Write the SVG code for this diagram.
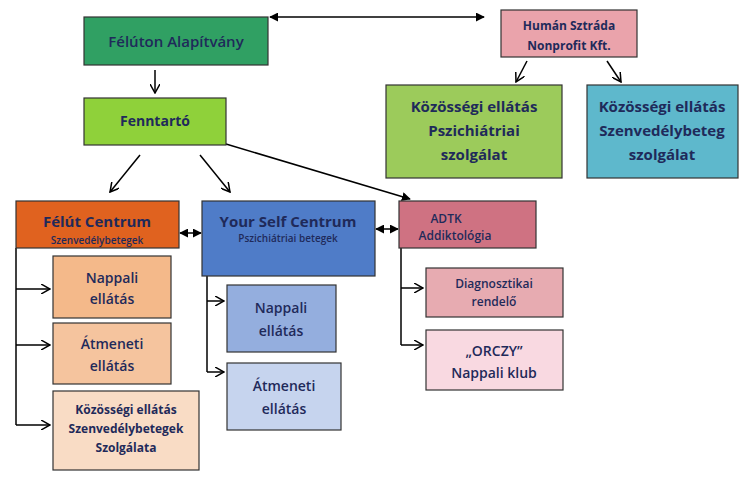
<svg xmlns="http://www.w3.org/2000/svg" width="752" height="500" viewBox="0 0 752 500">
<defs>
<marker id="v" viewBox="0 0 10 10" refX="9" refY="5" markerWidth="10" markerHeight="10" orient="auto-start-reverse" markerUnits="userSpaceOnUse"><path d="M0,0 L9,5 L0,10" fill="none" stroke="#000" stroke-width="1.5"/></marker>
<marker id="f" viewBox="0 0 10 10" refX="9" refY="5" markerWidth="9" markerHeight="9" orient="auto-start-reverse" markerUnits="userSpaceOnUse"><path d="M0,0 L10,5 L0,10 Z" fill="#000"/></marker>
</defs>
<style>
g rect{stroke:#333;stroke-width:1.2}
text{font-family:"Open Sans","DejaVu Sans",sans-serif;fill:#1f2a5a;text-anchor:middle;font-weight:bold}
.n{font-weight:600}
.c line,.c path{stroke:#000;stroke-width:1.5;fill:none}
</style>
<rect width="752" height="500" fill="#fff"/>
<g class="c">
<line x1="270" y1="17" x2="484" y2="17" marker-start="url(#f)" marker-end="url(#f)"/>
<line x1="155" y1="70" x2="155" y2="93" marker-end="url(#v)"/>
<line x1="527" y1="61" x2="516" y2="82" marker-end="url(#v)"/>
<line x1="607" y1="61" x2="621" y2="82" marker-end="url(#v)"/>
<line x1="140" y1="155" x2="110" y2="192" marker-end="url(#v)"/>
<line x1="200" y1="155" x2="230" y2="192" marker-end="url(#v)"/>
<line x1="226" y1="144" x2="410" y2="199" marker-end="url(#f)"/>
<line x1="180" y1="233" x2="201" y2="233" marker-start="url(#f)" marker-end="url(#f)"/>
<line x1="376" y1="229" x2="398" y2="229" marker-start="url(#f)" marker-end="url(#f)"/>
<path d="M16,248 V425"/>
<line x1="16" y1="289" x2="50" y2="289" marker-end="url(#v)"/>
<line x1="16" y1="345" x2="50" y2="345" marker-end="url(#v)"/>
<line x1="16" y1="425" x2="50" y2="425" marker-end="url(#v)"/>
<path d="M207,276 V372"/>
<line x1="207" y1="301" x2="224" y2="301" marker-end="url(#v)"/>
<line x1="207" y1="372" x2="224" y2="372" marker-end="url(#v)"/>
<path d="M401,248 V345"/>
<line x1="401" y1="288" x2="423" y2="288" marker-end="url(#v)"/>
<line x1="401" y1="345" x2="423" y2="345" marker-end="url(#v)"/>
</g>
<g id="felutonalap"><rect x="84" y="17" width="184" height="48" fill="#30a063"/><text x="176" y="47" font-size="15" class="n">Félúton Alapítvány</text></g>
<g id="human"><rect x="501" y="10" width="136" height="47" fill="#eaa3ab"/><text x="569" y="30" font-size="12">Humán Sztráda</text><text x="569" y="50" font-size="12">Nonprofit Kft.</text></g>
<g id="fenntarto"><rect x="84" y="98" width="142" height="47" fill="#8fd13a"/><text x="155" y="126" font-size="14">Fenntartó</text></g>
<g id="kpszich"><rect x="386" y="85" width="176" height="93" fill="#9ccb5b"/><text x="474" y="112" font-size="15">Közösségi ellátás</text><text x="474" y="136" font-size="15">Pszichiátriai</text><text x="474" y="160" font-size="15">szolgálat</text></g>
<g id="kszenv"><rect x="587" y="85" width="151" height="93" fill="#5eb8cc"/><text x="662" y="112" font-size="15">Közösségi ellátás</text><text x="662" y="136" font-size="15">Szenvedélybeteg</text><text x="662" y="160" font-size="15">szolgálat</text></g>
<g id="felut"><rect x="16" y="201" width="163" height="47" fill="#e0621f"/><text x="97" y="227" font-size="15">Félút Centrum</text><text x="97" y="244" font-size="10" class="n">Szenvedélybetegek</text></g>
<g id="yourself"><rect x="202" y="201" width="173" height="75" fill="#4f7cc8"/><text x="288" y="227" font-size="15">Your Self Centrum</text><text x="288" y="242" font-size="10" class="n">Pszichiátriai betegek</text></g>
<g id="adtk"><rect x="399" y="201" width="137" height="47" fill="#cf7282"/><text x="446" y="223" font-size="12" class="n">ADTK</text><text x="455" y="240" font-size="12" class="n">Addiktológia</text></g>
<g id="nappali1"><rect x="53" y="256" width="118" height="62" fill="#f4b98a"/><text x="112" y="283" font-size="14" class="n">Nappali</text><text x="112" y="304" font-size="14" class="n">ellátás</text></g>
<g id="atmeneti1"><rect x="53" y="323" width="118" height="61" fill="#f5c49e"/><text x="112" y="349" font-size="14" class="n">Átmeneti</text><text x="112" y="371" font-size="14" class="n">ellátás</text></g>
<g id="kszolg"><rect x="53" y="391" width="146" height="79" fill="#f9dcc5"/><text x="126" y="414" font-size="12">Közösségi ellátás</text><text x="126" y="433" font-size="12">Szenvedélybetegek</text><text x="126" y="452" font-size="12">Szolgálata</text></g>
<g id="nappali2"><rect x="227" y="285" width="109" height="67" fill="#94aede"/><text x="281" y="313" font-size="14" class="n">Nappali</text><text x="281" y="336" font-size="14" class="n">ellátás</text></g>
<g id="atmeneti2"><rect x="227" y="363" width="114" height="67" fill="#c6d4ee"/><text x="284" y="391" font-size="14" class="n">Átmeneti</text><text x="284" y="414" font-size="14" class="n">ellátás</text></g>
<g id="diag"><rect x="426" y="268" width="137" height="49" fill="#e7abb1"/><text x="494" y="288" font-size="12" class="n">Diagnosztikai</text><text x="494" y="306" font-size="12" class="n">rendelő</text></g>
<g id="orczy"><rect x="426" y="330" width="137" height="60" fill="#f9d9e1"/><text x="494" y="356" font-size="14" class="n">„ORCZY”</text><text x="494" y="378" font-size="14" class="n">Nappali klub</text></g>
</svg>
